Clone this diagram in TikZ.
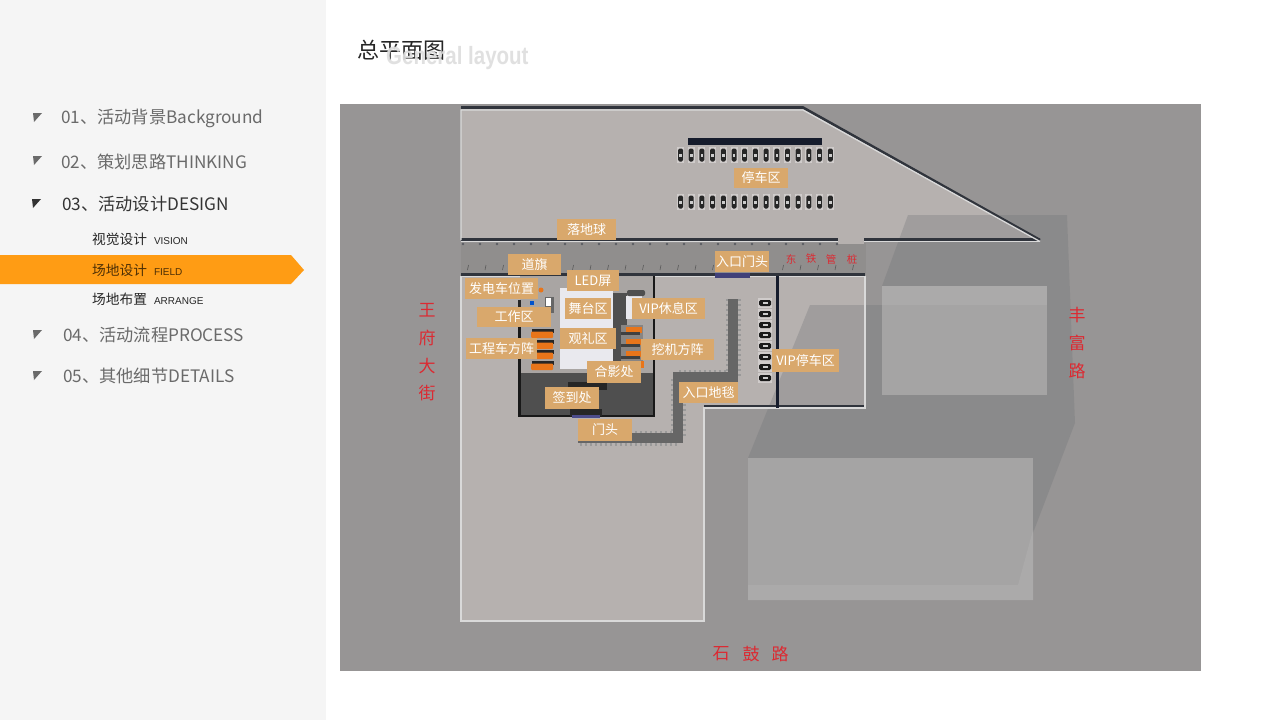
\documentclass[tikz,border=0pt]{standalone}
\usepackage{fontspec}
\setmainfont{Noto Sans CJK SC}
\newfontfamily\latf{Liberation Sans}
\usetikzlibrary{calc}
\definecolor{sidebg}{HTML}{F5F5F5}
\definecolor{orangebar}{HTML}{FF9C14}
\definecolor{menugrey}{HTML}{6A6A6A}
\definecolor{groundc}{HTML}{979595}
\definecolor{roadc}{HTML}{908E8D}
\definecolor{plotc}{HTML}{B6B1AF}
\definecolor{shadowc}{HTML}{6F7276}
\definecolor{bldgc}{HTML}{A5A4A4}
\definecolor{bldglight}{HTML}{ABAAAA}
\definecolor{tan}{HTML}{D9A86C}
\definecolor{wallc}{HTML}{30343C}
\definecolor{navyc}{HTML}{161C2C}
\definecolor{redc}{HTML}{DC2A32}
\definecolor{carpetc}{HTML}{666666}
\definecolor{hallc}{HTML}{4F4F4F}
\definecolor{orangec}{HTML}{E8751A}
\definecolor{stagec}{HTML}{E9E9EE}
\tikzset{
 x=1pt,y=-1pt,
 menu/.style={anchor=west,inner sep=0pt,text=menugrey,font=\fontsize{17.2}{20}\selectfont},
 menuon/.style={menu,text=black!80},
 submenu/.style={anchor=west,inner sep=0pt,text=black!85,font=\fontsize{13.7}{16}\selectfont},
 redtext/.style={inner sep=0pt,text=redc,font=\fontsize{17}{18}\selectfont},
 redsmall/.style={inner sep=0pt,text=redc,font=\fontsize{10.5}{12}\selectfont},
 tag/.style={fill=tan,text=white,inner sep=0pt,font=\fontsize{13}{15}\selectfont},
 wall/.style={draw=wallc,line width=2.6pt},
 rim/.style={draw=white!85!black,line width=1.3pt},
}
\newcommand{\tagbox}[6]{\node[tag,minimum width=#4-#3,minimum height=#6-#5] (#1) at ({(#3+#4)/2},{(#5+#6)/2}) {#2};}
\newcommand{\menumark}[3]{\fill[#3] (#1,#2) -- ++(9,0) -- ++(-8,9) -- cycle;}
\newcommand{\smalllat}[1]{\hspace{7pt}{\latf\fontsize{10}{10}\selectfont #1}}
\begin{document}
\begin{tikzpicture}
\useasboundingbox (0,0) rectangle (1280,720);
\fill[white] (0,0) rectangle (1280,720);
% sidebar
\fill[sidebg] (0,0) rectangle (326,720);
\fill[orangebar] (0,255) -- (291,255) -- (304,270) -- (291,284) -- (0,284) -- cycle;
\menumark{33}{113}{menugrey}
\menumark{33}{156}{menugrey}
\menumark{32}{199}{black!80}
\menumark{33}{330}{menugrey}
\menumark{33}{371}{menugrey}
\node[menu] (m1) at (61,118) {01、活动背景Background};
\node[menu] (m2) at (61,162) {02、策划思路THINKING};
\node[menuon] (m3) at (62,204) {03、活动设计DESIGN};
\node[menu] (m4) at (63,335) {04、活动流程PROCESS};
\node[menu] (m5) at (63,376) {05、其他细节DETAILS};
\node[submenu] (s1) at (92,239) {视觉设计\smalllat{VISION}};
\node[submenu,text=black!70!orangebar] (s2) at (92,270) {场地设计\smalllat{FIELD}};
\node[submenu] (s3) at (92,299) {场地布置\smalllat{ARRANGE}};
% title
\node[anchor=west,inner sep=0pt,font=\fontsize{22}{24}\selectfont,text=black!85] (t1) at (357,50) {总平面图};
\node[anchor=west,inner sep=0pt,xscale=0.82,text=black!13,opacity=.92,font=\latf\bfseries\fontsize{25}{28}\selectfont] (t2) at (386,58) {General layout};
% ground
\fill[groundc] (340,104) rectangle (1201,671);
\fill[roadc] (461,243) rectangle (866,275);
% upper plot
\fill[plotc] (461,109) -- (803,109) -- (1040,241) -- (461,241) -- cycle;
\fill[plotc] (838,240) rectangle (864,244);
% lower plot
\fill[plotc] (461,276) -- (865,276) -- (865,408) -- (704,408) -- (704,621) -- (461,621) -- cycle;
% building shadows
\fill[shadowc,opacity=.3] (908,215) -- (1067,215) -- (1075,423) -- (1033,533) -- (1033,458) -- (748,458) -- (810,305) -- (882,305) -- (882,286) -- cycle;
% ghost buildings
\fill[bldgc] (882,286) rectangle (1047,395);
\fill[bldglight] (882,286) rectangle (1047,305);
\fill[bldgc] (748,458) rectangle (1033,600);
\fill[bldglight] (748,585) -- (1018,585) -- (1033,530) -- (1033,600) -- (748,600) -- cycle;
% plot walls
\draw[wall] (461,107.5) -- (803,107.5) -- (1040,240);
\draw[wall] (461,239.5) -- (838,239.5);
\draw[wall] (864,239.5) -- (1040,239.5);
\draw[rim] (461,240) -- (461,110) -- (803,110) -- (1040,241.5);
\draw[rim] (461,241.5) -- (838,241.5);
\draw[rim] (864,241.5) -- (1040,241.5);
\draw[wall] (461,274.5) -- (865,274.5);
\draw[wall] (704,406) -- (865,406);
\draw[rim] (461,276.5) -- (865,276.5) -- (865,408) -- (704,408) -- (704,621) -- (461,621) -- cycle;
% flags
\foreach \k in {0,...,22}{
  \fill[wallc!80] ({463+17*\k},244) circle (1.4);
  \draw[black!65,line width=.6pt] ({467.5+17.5*\k},270) -- ({468.5+17.5*\k},265);
}
% parked cars
\fill[navyc] (688,138) rectangle (822,145);
\foreach \k in {0,...,14}{
  \foreach \yy in {155,202}{
    \fill[white!35!plotc] ({677+10.7*\k},{\yy-8}) rectangle ({684+10.7*\k},{\yy+8});
    \fill[black!85,rounded corners=1.5pt] ({678+10.7*\k},{\yy-6.5}) rectangle ({683+10.7*\k},{\yy+6.5});
    \fill[white!80!black] ({679.2+10.7*\k},{\yy-1.5}) rectangle ({681.8+10.7*\k},{\yy+1.5});
  }
}
% venue
\fill[black!7!plotc] (520,276) rectangle (654,374);
\fill[hallc] (520,373) rectangle (654,416);
\draw[draw=black!90,line width=2.5pt] (519.5,300) -- (519.5,416) -- (654,416) -- (654,276);
\fill[stagec] (560,288) rectangle (613,369);
\fill[hallc] (613,293) rectangle (627,370);
\fill[stagec] (626,296) rectangle (642,319);
\fill[hallc,rounded corners=2pt] (627,290) rectangle (645,296);
\fill[black!85] (568,382) rectangle (607,390);
\fill[black!85] (570,409) rectangle (602,416);
\fill[blue!35!black!70] (572,415) rectangle (600,418);
% work area
\fill[black!85] (518,300) rectangle (521,307);
\fill[blue!60!cyan!80!black] (530,301) rectangle (534,305);
\fill[black!60] (545,297) rectangle (554,313);
\fill[white] (546,298) rectangle (551,306);
\fill[orangec] (541,290) circle (2.5);
% engineering trucks
\foreach \yy in {330,341,351,362}{
  \fill[black!85] (532,{\yy-1}) rectangle (554,{\yy+3});
  \fill[orangec,rounded corners=1pt] (531,{\yy+1.5}) rectangle (553,{\yy+8});
}
% excavators
\foreach \yy in {326,338,350}{
  \fill[black!25!plotc] (621,{\yy-1}) rectangle (643,{\yy+12});
  \fill[orangec] (626,{\yy+1}) rectangle (642,{\yy+7});
  \fill[black!75] (621,{\yy+6}) rectangle (640,{\yy+9});
}
\fill[orangec] (640,361) rectangle (644,368);
% entrance gate
\fill[blue!30!black!75] (715,273) rectangle (750,278);
% carpet
\draw[white!60!black,line width=15pt,dash pattern=on 1.8pt off 3.2pt] (733,299) -- (733,377) -- (678,377) -- (678,438) -- (578,438);
\draw[carpetc,line width=10pt] (733,299) -- (733,377) -- (678,377) -- (678,438) -- (578,438);
% VIP cars
\foreach \yy in {303,314,325,335,346,357,367,378}{
  \fill[white!35!plotc] (758,{\yy-5}) rectangle (772,{\yy+5});
  \fill[black!90,rounded corners=1.5pt] (759,{\yy-3}) rectangle (771,{\yy+3});
  \fill[white!80!black] (762.5,{\yy-1.3}) rectangle (767.5,{\yy+1.3});
}
\draw[draw=navyc,line width=3pt] (777,276) -- (777,408);
% labels
\tagbox{a1}{落地球}{557}{616}{219}{240}
\tagbox{a2}{道旗}{508}{561}{254}{275}
\tagbox{a3}{入口门头}{715}{769}{251}{272}
\tagbox{a5}{发电车位置}{465}{538}{278}{299}
\tagbox{a4}{LED屏}{567}{619}{270}{291}
\tagbox{a6}{舞台区}{565}{611}{298}{319}
\tagbox{a7}{VIP休息区}{632}{705}{298}{319}
\tagbox{a8}{工作区}{477}{551}{307}{327}
\tagbox{a9}{观礼区}{560}{616}{328}{349}
\tagbox{a10}{工程车方阵}{466}{537}{338}{359}
\tagbox{a11}{挖机方阵}{641}{714}{339}{360}
\tagbox{a12}{VIP停车区}{772}{839}{349}{372}
\tagbox{a13}{合影处}{587}{641}{361}{383}
\tagbox{a14}{入口地毯}{679}{738}{382}{403}
\tagbox{a15}{签到处}{545}{599}{387}{409}
\tagbox{a16}{门头}{578}{632}{419}{441}
\tagbox{a17}{停车区}{734}{788}{168}{188}
% red text
\node[redsmall] (r1) at (791,259) {东};
\node[redsmall] (r2) at (811,259) {铁};
\node[redsmall] (r3) at (831,259) {管};
\node[redsmall] (r4) at (852,259) {桩};
\node[redtext] (w1) at (427,310) {王};
\node[redtext] (w2) at (427,338) {府};
\node[redtext] (w3) at (427,366) {大};
\node[redtext] (w4) at (427,393) {街};
\node[redtext] (f1) at (1077,315) {丰};
\node[redtext] (f2) at (1077,343) {富};
\node[redtext] (f3) at (1077,371) {路};
\node[redtext] (g1) at (721,654) {石};
\node[redtext] (g2) at (751,654) {鼓};
\node[redtext] (g3) at (780,654) {路};
\end{tikzpicture}
\end{document}
